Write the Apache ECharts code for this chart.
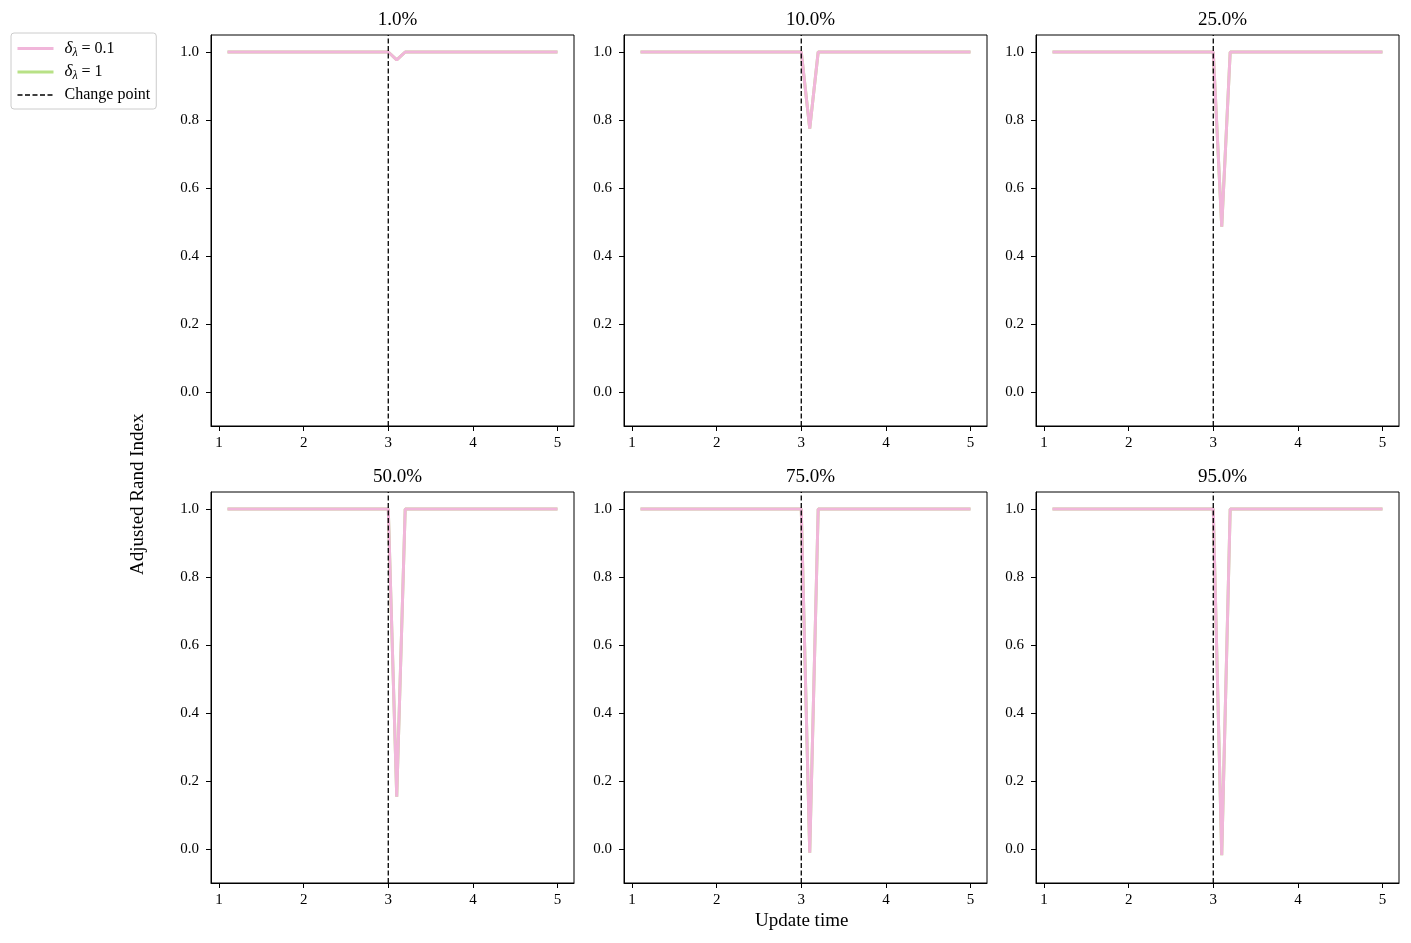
<!DOCTYPE html>
<html>
<head>
<meta charset="utf-8">
<script src="https://cdn.jsdelivr.net/npm/echarts@6/dist/echarts.min.js"></script>
<style>
  html, body { margin: 0; background: #fff; }
  #chart { width: 1411px; height: 943px; }
</style>
</head>
<body>
<div id="chart"></div>
<script>
// x 轴：更新时间
const updateTimes = [
  1.1, 1.2, 1.3, 1.4, 1.5, 1.6, 1.7, 1.8, 1.9, 2.0,
  2.1, 2.2, 2.3, 2.4, 2.5, 2.6, 2.7, 2.8, 2.9, 3.0,
  3.1, 3.2, 3.3, 3.4, 3.5, 3.6, 3.7, 3.8, 3.9, 4.0,
  4.1, 4.2, 4.3, 4.4, 4.5, 4.6, 4.7, 4.8, 4.9, 5.0
]
const panelTitles = ['1.0%', '10.0%', '25.0%', '50.0%', '75.0%', '95.0%']

// δλ = 0.1 的 ARI
const ariSmall1 = [1,1,1,1,1,1,1,1,1,1, 1,1,1,1,1,1,1,1,1,1, 0.977,1,1,1,1,1,1,1,1,1, 1,1,1,1,1,1,1,1,1,1]
const ariSmall10 = [1,1,1,1,1,1,1,1,1,1, 1,1,1,1,1,1,1,1,1,1, 0.775,1,1,1,1,1,1,1,1,1, 1,1,1,1,1,1,1,1,1,1]
const ariSmall25 = [1,1,1,1,1,1,1,1,1,1, 1,1,1,1,1,1,1,1,1,1, 0.486,1,1,1,1,1,1,1,1,1, 1,1,1,1,1,1,1,1,1,1]
const ariSmall50 = [1,1,1,1,1,1,1,1,1,1, 1,1,1,1,1,1,1,1,1,1, 0.154,1,1,1,1,1,1,1,1,1, 1,1,1,1,1,1,1,1,1,1]
const ariSmall75 = [1,1,1,1,1,1,1,1,1,1, 1,1,1,1,1,1,1,1,1,1, -0.011,1,1,1,1,1,1,1,1,1, 1,1,1,1,1,1,1,1,1,1]
const ariSmall95 = [1,1,1,1,1,1,1,1,1,1, 1,1,1,1,1,1,1,1,1,1, -0.018,1,1,1,1,1,1,1,1,1, 1,1,1,1,1,1,1,1,1,1]

// δλ = 1 的 ARI（与上面重合，被粉色线盖住）
const ariLarge1 = [1,1,1,1,1,1,1,1,1,1, 1,1,1,1,1,1,1,1,1,1, 0.977,1,1,1,1,1,1,1,1,1, 1,1,1,1,1,1,1,1,1,1]
const ariLarge10 = [1,1,1,1,1,1,1,1,1,1, 1,1,1,1,1,1,1,1,1,1, 0.775,1,1,1,1,1,1,1,1,1, 1,1,1,1,1,1,1,1,1,1]
const ariLarge25 = [1,1,1,1,1,1,1,1,1,1, 1,1,1,1,1,1,1,1,1,1, 0.486,1,1,1,1,1,1,1,1,1, 1,1,1,1,1,1,1,1,1,1]
const ariLarge50 = [1,1,1,1,1,1,1,1,1,1, 1,1,1,1,1,1,1,1,1,1, 0.154,1,1,1,1,1,1,1,1,1, 1,1,1,1,1,1,1,1,1,1]
const ariLarge75 = [1,1,1,1,1,1,1,1,1,1, 1,1,1,1,1,1,1,1,1,1, -0.011,1,1,1,1,1,1,1,1,1, 1,1,1,1,1,1,1,1,1,1]
const ariLarge95 = [1,1,1,1,1,1,1,1,1,1, 1,1,1,1,1,1,1,1,1,1, -0.018,1,1,1,1,1,1,1,1,1, 1,1,1,1,1,1,1,1,1,1]

const changePoint = 3
const xTicks = [1, 2, 3, 4, 5]
const yTicks = [0, 0.2, 0.4, 0.6, 0.8, 1.0]

const smallSets = [ariSmall1, ariSmall10, ariSmall25, ariSmall50, ariSmall75, ariSmall95]
const largeSets = [ariLarge1, ariLarge10, ariLarge25, ariLarge50, ariLarge75, ariLarge95]

const FONT = 'Liberation Serif'
const X_MIN = 0.905, X_MAX = 5.195
const Y_MIN = -0.1, Y_MAX = 1.05
const PINK = '#f1b6da', GREEN = '#b8e186'
const DASH = [5, 2.5]

const lefts = [211, 624, 1036]
const tops = [35, 492]
const W = 363, H = 391

const grid = [], xAxis = [], yAxis = [], series = [], title = []

panelTitles.forEach((name, i) => {
  const c = i % 3, r = Math.floor(i / 3)
  grid.push({
    left: lefts[c], top: tops[r], width: W, height: H,
    show: true, borderColor: '#000', borderWidth: 1, backgroundColor: 'transparent'
  })
  xAxis.push({
    type: 'value', gridIndex: i, min: X_MIN, max: X_MAX,
    splitLine: { show: false },
    axisLine: { show: true, onZero: false, lineStyle: { color: '#000', width: 1 } },
    axisTick: { show: true, length: 5, lineStyle: { color: '#000' }, customValues: xTicks },
    axisLabel: { color: '#000', fontFamily: FONT, fontSize: 15, margin: 10, customValues: xTicks,
      formatter: v => String(v) }
  })
  yAxis.push({
    type: 'value', gridIndex: i, min: Y_MIN, max: Y_MAX,
    splitLine: { show: false },
    axisLine: { show: true, onZero: false, lineStyle: { color: '#000', width: 1 } },
    axisTick: { show: true, length: 5, lineStyle: { color: '#000' }, customValues: yTicks },
    axisLabel: { color: '#000', fontFamily: FONT, fontSize: 15, margin: 12, customValues: yTicks,
      formatter: v => v.toFixed(1) }
  })
  title.push({
    text: name, left: lefts[c] + W / 2, top: tops[r] - 29, textAlign: 'center',
    textStyle: { fontFamily: FONT, fontSize: 19, fontWeight: 'normal', color: '#000' }
  })
  series.push({
    name: 'δλ = 1', type: 'line', xAxisIndex: i, yAxisIndex: i,
    data: updateTimes.map((t, k) => [t, largeSets[i][k]]),
    showSymbol: false, symbol: 'none', z: 2,
    lineStyle: { color: GREEN, width: 3 }, itemStyle: { color: GREEN }
  })
  series.push({
    name: 'δλ = 0.1', type: 'line', xAxisIndex: i, yAxisIndex: i,
    data: updateTimes.map((t, k) => [t, smallSets[i][k]]),
    showSymbol: false, symbol: 'none', z: 3,
    lineStyle: { color: PINK, width: 3 }, itemStyle: { color: PINK }
  })
  series.push({
    name: 'Change point', type: 'line', xAxisIndex: i, yAxisIndex: i,
    data: [[changePoint, Y_MIN], [changePoint, Y_MAX]],
    showSymbol: false, symbol: 'none', z: 4,
    lineStyle: { color: '#000', width: 1.3, type: DASH }, itemStyle: { color: '#000' }
  })
})

const chart = echarts.init(document.getElementById('chart'))
chart.setOption({
  animation: false,
  backgroundColor: '#fff',
  title,
  grid, xAxis, yAxis, series,
  legend: {
    data: [
      { name: 'δλ = 0.1', lineStyle: { color: PINK, width: 3 } },
      { name: 'δλ = 1', lineStyle: { color: GREEN, width: 3 } },
      { name: 'Change point', lineStyle: { color: '#000', width: 1.3, type: DASH } }
    ],
    orient: 'vertical', left: 11, top: 33,
    itemWidth: 36, itemHeight: 14, itemGap: 5,
    padding: [7, 6, 6, 5],
    borderColor: '#cccccc', borderWidth: 1, borderRadius: 3,
    backgroundColor: '#fff',
    itemStyle: { color: 'transparent', borderWidth: 0, opacity: 0 },
    formatter: name => {
      if (name === 'Change point') return name
      return '{g|δ}{s|λ}{n|' + name.slice(2) + '}'
    },
    textStyle: {
      fontFamily: FONT, fontSize: 16, color: '#000', padding: [0, 0, 0, 6],
      rich: {
        g: { fontFamily: FONT, fontSize: 17, fontStyle: 'italic' },
        s: { fontFamily: FONT, fontSize: 12, fontStyle: 'italic', padding: [8, 0, 0, 0] },
        n: { fontFamily: FONT, fontSize: 16 }
      }
    }
  },
  graphic: [
    {
      type: 'text', left: 755, top: 912,
      style: { text: 'Update time', fontFamily: FONT, fontSize: 19, fill: '#000' }
    },
    {
      type: 'text', x: 129, y: 575, rotation: Math.PI / 2,
      style: { text: 'Adjusted Rand Index', fontFamily: FONT, fontSize: 19, fill: '#000' }
    }
  ]
})
</script>
</body>
</html>
